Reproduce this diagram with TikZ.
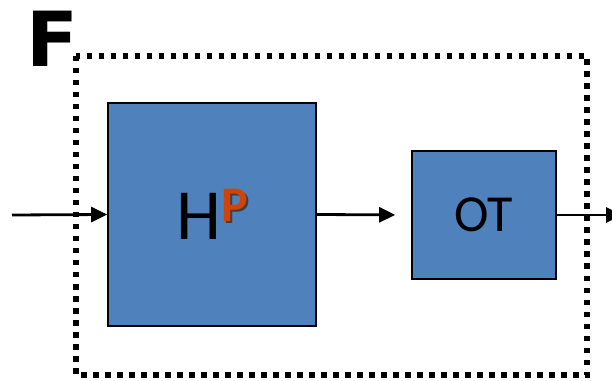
\documentclass[tikz,border=0pt]{standalone}
\usepackage{fontspec}
\setmainfont{Carlito}
\newfontfamily\markfont{DejaVu Sans}
\usepackage{xcolor}
\usetikzlibrary{arrows.meta,positioning}
\definecolor{blockblue}{RGB}{79,129,189}
\definecolor{supred}{RGB}{208,68,10}
\tikzset{
  bloque/.style={rectangle,draw=black,line width=1.6pt,fill=blockblue,inner sep=0pt},
  marco/.style={draw=black,line width=5.5pt,dash pattern=on 5.5pt off 6.5pt},
  senal/.style={-{Triangle[length=16pt,width=15pt]},line width=2.8pt}
}
% shadowed superscript letter
\newcommand{\supletra}[1]{\rlap{\hspace{2.2pt}\raisebox{-2.2pt}{\color{black!75}#1}}{\color{supred}#1}}

\begin{document}
\begin{tikzpicture}[x=1pt,y=1pt]
\clip (0,0) rectangle (612,380);
% dotted frame and its letter
\draw[marco] (76,324) rectangle (587,5);
\node[font=\markfont\bfseries\fontsize{76}{76}\selectfont] (letra) at (52,341) {F};
% blocks
\node[bloque,minimum width=208pt,minimum height=223pt] (hp) at (212,165.5)
  {\fontsize{72}{72}\selectfont H\raisebox{18pt}{\fontsize{50}{50}\selectfont\bfseries\supletra{P}}};
\node[bloque,minimum width=144pt,minimum height=128pt] (ot) at (484,165)
  {\fontsize{52}{52}\selectfont OT};
% signals
\coordinate (entrada) at (12,165);
\coordinate (salida) at (622,165);
\draw[senal] (entrada) -- (hp.west);
\draw[senal,shorten >=16pt] (hp.east) -- (ot.west);
\draw[senal] (ot.east) -- (salida);
\end{tikzpicture}
\end{document}
